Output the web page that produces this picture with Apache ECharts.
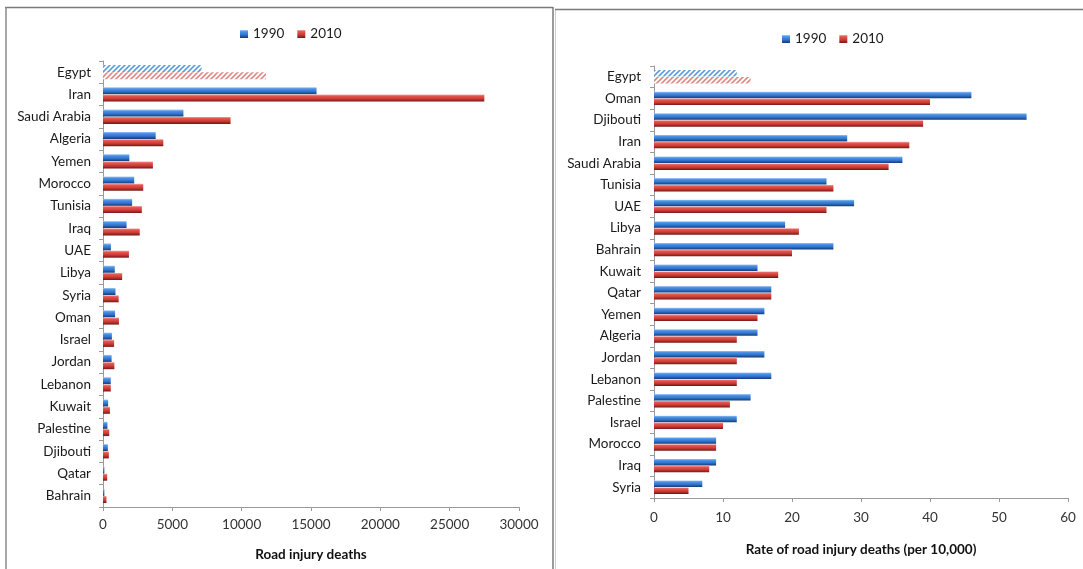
<!DOCTYPE html>
<html><head><meta charset="utf-8">
<script src="https://cdn.jsdelivr.net/npm/echarts@6/dist/echarts.min.js"></script>
<style>html,body{margin:0;padding:0;background:#fff}#c{width:1083px;height:569px}</style>
</head><body><div id="c"></div>
<script>
// ---- data ----
const deathCategories = ['Egypt','Iran','Saudi Arabia','Algeria','Yemen','Morocco','Tunisia','Iraq','UAE','Libya','Syria','Oman','Israel','Jordan','Lebanon','Kuwait','Palestine','Djibouti','Qatar','Bahrain'];
const deaths1990 = [7100,15400,5800,3800,1900,2250,2100,1700,570,850,900,870,640,620,560,370,320,350,100,100];
const deaths2010 = [11750,27500,9200,4350,3600,2900,2800,2650,1870,1380,1130,1150,800,820,560,500,450,420,300,250];
const rateCategories = ['Egypt','Oman','Djibouti','Iran','Saudi Arabia','Tunisia','UAE','Libya','Bahrain','Kuwait','Qatar','Yemen','Algeria','Jordan','Lebanon','Palestine','Israel','Morocco','Iraq','Syria'];
const rate1990 = [12,46,54,28,36,25,29,19,26,15,17,16,15,16,17,14,12,9,9,7];
const rate2010 = [14,40,39,37,34,26,25,21,20,18,17,15,12,12,12,11,10,9,8,5];
const seriesNames = ['1990','2010'];
const deathAxisName = 'Road injury deaths';
const rateAxisName = 'Rate of road injury deaths (per 10,000)';
const hatchedCategory = 'Egypt';

// ---- styles ----
const FONT = 'Lato, "Open Sans", sans-serif';
function grad(stops){
  return new echarts.graphic.LinearGradient(0,0,0,1, stops.map(c=>({offset:c[0],color:c[1]})));
}
const blueGrad = grad([[0,'#a6cdf7'],[0.2,'#4f95e8'],[0.6,'#3173cc'],[0.85,'#1f4f95'],[1,'#173a70']]);
const redGrad  = grad([[0,'#f6aaa7'],[0.2,'#e5584f'],[0.6,'#cc3a35'],[0.85,'#952421'],[1,'#6e1a18']]);
function hatch(color){
  const c = document.createElement('canvas');
  c.width = 5; c.height = 5;
  const g = c.getContext('2d');
  g.fillStyle = '#ffffff'; g.fillRect(0,0,5,5);
  g.strokeStyle = color; g.lineWidth = 1.6;
  g.beginPath();
  g.moveTo(-1,6); g.lineTo(6,-1);
  g.moveTo(-3.5,3.5); g.lineTo(3.5,-3.5);
  g.moveTo(1.5,8.5); g.lineTo(8.5,1.5);
  g.stroke();
  return {image: c, repeat: 'repeat'};
}
const blueHatch = hatch('#5c9fdc');
const redHatch = hatch('#e08a88');

function withHatch(cats, vals, pat){
  return vals.map((v,i)=> cats[i]===hatchedCategory ? {value:v, itemStyle:{color:pat}} : v);
}

const axisLine = {show:true, lineStyle:{color:'#9a9a9a', width:1}};
const labelStyle = {color:'#1a1a1a', fontSize:13.5, fontFamily:FONT};
const plain = v => String(v);

const chart = echarts.init(document.getElementById('c'), null, {renderer:'canvas'});
chart.setOption({
  backgroundColor:'#fff',
  animation:false,
  graphic:[
    {type:'line', shape:{x1:5,y1:7.5,x2:553,y2:7.5}, style:{stroke:'#7a7a7a', lineWidth:1.5}},
    {type:'line', shape:{x1:6,y1:7,x2:6,y2:569}, style:{stroke:'#8a8a8a', lineWidth:1.5}},
    {type:'line', shape:{x1:553,y1:7,x2:553,y2:569}, style:{stroke:'#7a7a7a', lineWidth:1.5}},
    {type:'line', shape:{x1:555.5,y1:10,x2:555.5,y2:569}, style:{stroke:'#d0d0d0', lineWidth:1}},
    {type:'line', shape:{x1:555,y1:9.5,x2:1083,y2:9.5}, style:{stroke:'#7a7a7a', lineWidth:1.5}}
  ],
  legend:[
    {left:235, top:22, itemWidth:8, itemHeight:8, itemGap:13, icon:'rect', data:seriesNames,
     textStyle:{color:'#1a1a1a', fontSize:13.5, fontFamily:FONT}, selectedMode:false},
    {left:777, top:27, itemWidth:8, itemHeight:8, itemGap:13, icon:'rect', data:seriesNames,
     textStyle:{color:'#1a1a1a', fontSize:13.5, fontFamily:FONT}, selectedMode:false}
  ],
  grid:[
    {left:103, top:61, width:416, height:446, containLabel:false},
    {left:654, top:66, width:414, height:432, containLabel:false}
  ],
  xAxis:[
    {type:'value', gridIndex:0, min:0, max:30000, interval:5000,
     axisLine:axisLine, axisTick:{show:true, length:4, lineStyle:{color:'#9a9a9a'}},
     splitLine:{show:false}, axisLabel:Object.assign({margin:11, formatter:plain}, labelStyle, {color:'#333'}),
     name:deathAxisName, nameLocation:'middle', nameGap:41,
     nameTextStyle:{color:'#111', fontSize:13.5, fontWeight:'bold', fontFamily:FONT}},
    {type:'value', gridIndex:1, min:0, max:60, interval:10,
     axisLine:axisLine, axisTick:{show:true, length:4, lineStyle:{color:'#9a9a9a'}},
     splitLine:{show:false}, axisLabel:Object.assign({margin:13, formatter:plain}, labelStyle, {color:'#333'}),
     name:rateAxisName, nameLocation:'middle', nameGap:45,
     nameTextStyle:{color:'#111', fontSize:13.5, fontWeight:'bold', fontFamily:FONT}}
  ],
  yAxis:[
    {type:'category', gridIndex:0, data:deathCategories, inverse:true,
     axisLine:axisLine, axisTick:{show:true, length:4, lineStyle:{color:'#9a9a9a'}},
     axisLabel:Object.assign({margin:12}, labelStyle)},
    {type:'category', gridIndex:1, data:rateCategories, inverse:true,
     axisLine:axisLine, axisTick:{show:true, length:4, lineStyle:{color:'#9a9a9a'}},
     axisLabel:Object.assign({margin:13}, labelStyle)}
  ],
  series:[
    {name:seriesNames[0], type:'bar', xAxisIndex:0, yAxisIndex:0, barWidth:7, barGap:'4%',
     itemStyle:{color:blueGrad}, data:withHatch(deathCategories, deaths1990, blueHatch)},
    {name:seriesNames[1], type:'bar', xAxisIndex:0, yAxisIndex:0, barWidth:7, barGap:'4%',
     itemStyle:{color:redGrad}, data:withHatch(deathCategories, deaths2010, redHatch)},
    {name:seriesNames[0], type:'bar', xAxisIndex:1, yAxisIndex:1, barWidth:6.5, barGap:'6%',
     itemStyle:{color:blueGrad}, data:withHatch(rateCategories, rate1990, blueHatch)},
    {name:seriesNames[1], type:'bar', xAxisIndex:1, yAxisIndex:1, barWidth:6.5, barGap:'6%',
     itemStyle:{color:redGrad}, data:withHatch(rateCategories, rate2010, redHatch)}
  ]
});
</script></body></html>
